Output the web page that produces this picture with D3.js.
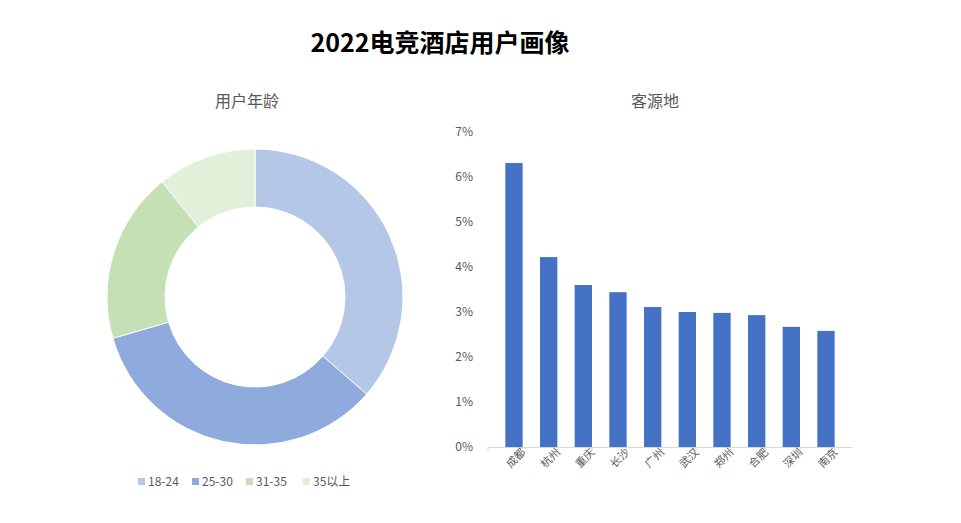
<!DOCTYPE html>
<html><head><meta charset="utf-8">
<script src="https://cdn.jsdelivr.net/npm/d3@7"></script>
<style>body{margin:0;background:#fff}text{font-family:"Noto Sans CJK SC","Open Sans",sans-serif}</style>
</head><body>
<svg id="c" width="961" height="523"></svg>
<script>
// 用户年龄
const ageGroups = ['18-24', '25-30', '31-35', '35以上']
const ageShares = [36.4, 34.1, 18.7, 10.8]
const ageColors = ['#b4c7e7', '#8faadc', '#c5e0b4', '#e2f0d9']

// 客源地
const cities = ['成都', '杭州', '重庆', '长沙', '广州', '武汉', '郑州', '合肥', '深圳', '南京']
const cityShares = [6.31, 4.22, 3.6, 3.44, 3.11, 3.0, 2.98, 2.93, 2.67, 2.58]
const yTicks = [0, 1, 2, 3, 4, 5, 6, 7]

const svg = d3.select('#c')

svg.append('text').attr('x', 440).attr('y', 52).attr('text-anchor', 'middle')
  .attr('font-size', 25).attr('font-weight', 'bold').attr('fill', '#000')
  .text('2022电竞酒店用户画像')

// donut
svg.append('text').attr('x', 247).attr('y', 107).attr('text-anchor', 'middle')
  .attr('font-size', 16).attr('fill', '#595959').text('用户年龄')

const pie = d3.pie().sort(null).value((d) => d)
const arc = d3.arc().innerRadius(90).outerRadius(148)
svg.append('g').attr('transform', 'translate(255,297)')
  .selectAll('path').data(pie(ageShares)).join('path')
    .attr('d', arc)
    .attr('fill', (d, i) => ageColors[i])
    .attr('stroke', '#fff').attr('stroke-width', 1)

const legendX = [138, 192, 246, 303]
const lg = svg.append('g').selectAll('g').data(ageGroups).join('g')
  .attr('transform', (d, i) => `translate(${legendX[i]},482)`)
lg.append('rect').attr('x', 0).attr('y', -4).attr('width', 7).attr('height', 7)
  .attr('fill', (d, i) => ageColors[i])
lg.append('text').attr('x', 10).attr('y', 4).attr('font-size', 12).attr('fill', '#595959')
  .text((d) => d)

// bars
svg.append('text').attr('x', 655).attr('y', 107).attr('text-anchor', 'middle')
  .attr('font-size', 16).attr('fill', '#595959').text('客源地')

const x = d3.scaleBand().domain(cities).range([488, 852]).padding(0.5)
const y = d3.scaleLinear().domain([0, 7]).range([447, 132])

const yAxis = svg.append('g').attr('transform', 'translate(476,0)')
  .call(d3.axisLeft(y).tickValues(yTicks).tickSize(0).tickFormat((d) => d + '%'))
yAxis.select('.domain').remove()
yAxis.selectAll('text').attr('font-size', 12).attr('fill', '#595959')
  .attr('font-family', '"Open Sans",sans-serif')

svg.append('g').selectAll('rect').data(cities).join('rect')
  .attr('x', (d) => x(d))
  .attr('y', (d, i) => y(cityShares[i]))
  .attr('width', x.bandwidth())
  .attr('height', (d, i) => y(0) - y(cityShares[i]))
  .attr('fill', '#4472c4')

const xAxis = svg.append('g').attr('transform', `translate(0,${y(0)})`)
  .call(d3.axisBottom(x).tickSize(0))
xAxis.select('.domain').attr('stroke', '#d9d9d9')
xAxis.selectAll('text').attr('font-size', 11).attr('fill', '#595959')
  .attr('text-anchor', 'end').attr('transform', 'rotate(-45)')
  .attr('dx', '0.4em').attr('dy', '0.9em')
svg.append('g').selectAll('line').data(d3.range(cities.length + 1)).join('line')
  .attr('x1', (d) => 488 + d * x.step()).attr('x2', (d) => 488 + d * x.step())
  .attr('y1', y(0)).attr('y2', y(0) + 4).attr('stroke', '#d9d9d9')
</script>
</body></html>
